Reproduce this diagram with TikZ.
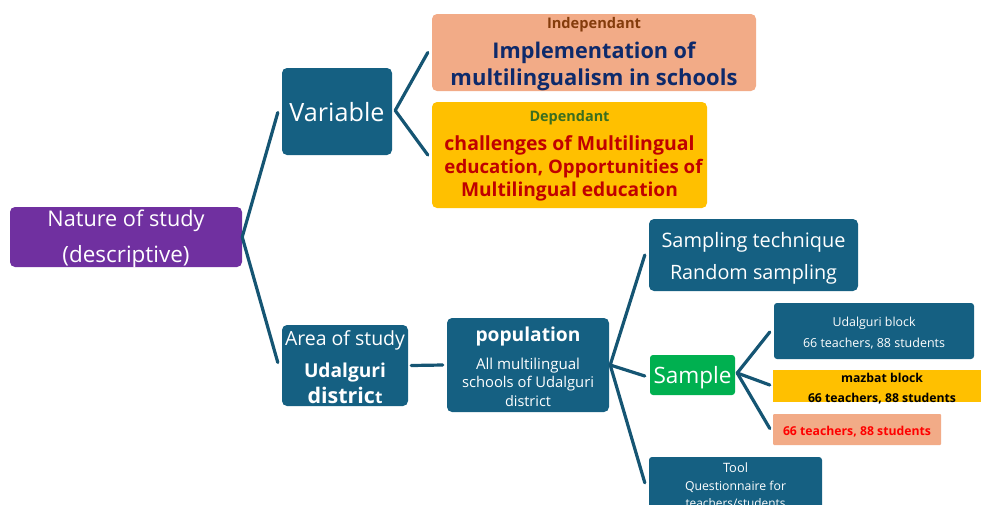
\documentclass[tikz,border=0pt]{standalone}
\usepackage{fontspec}
\setmainfont{Open Sans}
\usetikzlibrary{calc}
\definecolor{boxblue}{HTML}{156082}
\definecolor{linec}{HTML}{155573}
\definecolor{natpurple}{HTML}{7030A0}
\definecolor{salmon}{HTML}{F2AB87}
\definecolor{gold}{HTML}{FFC000}
\definecolor{sgreen}{HTML}{00B050}
\definecolor{indbrown}{HTML}{843C0C}
\definecolor{navy}{HTML}{0E2A6B}
\definecolor{dred}{HTML}{C00000}
\definecolor{dgreen}{HTML}{3B6E1F}
\definecolor{bred}{HTML}{FF0000}
\newcommand{\fw}[2]{\resizebox{#1pt}{!}{#2}}
\tikzset{
  box/.style={rounded corners=5pt, inner sep=0pt, draw=none},
  txt/.style={inner sep=0pt, text=white, yshift=-2pt},
  conn/.style={draw=linec, line width=3.2pt, line cap=round}
}
\begin{document}
\begin{tikzpicture}[x=1pt,y=-1pt]
\useasboundingbox (0,0) rectangle (981,504);
\clip (0,0) rectangle (981,504);
% boxes
\node[box, fill=natpurple, minimum width=232pt, minimum height=60pt] (nat) at (126,237) {};
\node[box, fill=boxblue, minimum width=110pt, minimum height=87pt] (var) at (337,111.5) {};
\node[box, fill=salmon, minimum width=324pt, minimum height=77pt] (ind) at (594,52.5) {};
\node[box, fill=gold, minimum width=275pt, minimum height=106pt] (dep) at (569.5,155) {};
\node[box, fill=boxblue, minimum width=126pt, minimum height=81pt] (area) at (345,365.5) {};
\node[box, fill=boxblue, minimum width=162pt, minimum height=94pt] (pop) at (528,365) {};
\node[box, fill=boxblue, minimum width=209pt, minimum height=72pt] (st) at (753.5,255) {};
\node[box, rounded corners=3pt, fill=sgreen, minimum width=85pt, minimum height=40pt] (smp) at (692.5,375) {};
\node[box, rounded corners=3pt, fill=boxblue, minimum width=200pt, minimum height=56pt] (udal) at (874,331) {};
\node[box, rounded corners=0pt, fill=gold, minimum width=210pt, minimum height=32pt] (maz) at (878,386) {};
\node[box, rounded corners=1pt, fill=salmon, minimum width=168pt, minimum height=31pt] (t66) at (857,429.5) {};
\node[box, rounded corners=3pt, fill=boxblue, minimum width=173pt, minimum height=70pt] (tool) at (735.5,492) {};
% texts
\node[txt] (natA) at (126,219) {\fw{157}{Nature of study}};
\node[txt] (natB) at (126,255) {\fw{127}{(descriptive)}};
\node[txt] (varT) at (337,110) {\fw{95}{Variable}};
\node[txt, text=indbrown] (indA) at (594,23) {\fw{94}{\bfseries Independant}};
\node[txt, text=navy] (indB) at (594,51) {\fw{203}{\bfseries Implementation of}};
\node[txt, text=navy] (indC) at (594,78) {\fw{287}{\bfseries multilingualism in schools}};
\node[txt, text=dgreen] (depA) at (569.5,116) {\fw{80}{\bfseries Dependant}};
\node[txt, text=dred] (depB) at (569.5,143) {\fw{250}{\bfseries challenges of Multilingual}};
\node[txt, text=dred] (depC) at (573.5,167) {\fw{258}{\bfseries education, Opportunities of}};
\node[txt, text=dred] (depD) at (569.5,190) {\fw{217}{\bfseries Multilingual education}};
\node[txt] (areaA) at (345,338) {\fw{120}{Area of study}};
\node[txt] (areaB) at (345,371) {\fw{82}{\bfseries Udalguri}};
\node[txt] (areaC) at (345,393) {\fw{75}{\bfseries distric{\footnotesize t}}};
\node[txt] (popA) at (528,335) {\fw{105}{\bfseries population}};
\node[txt] (popB) at (528,364) {\fw{104}{All multilingual}};
\node[txt] (popC) at (528,382) {\fw{132}{schools of Udalguri}};
\node[txt] (popD) at (528,399) {\fw{46}{district}};
\node[txt] (stA) at (753.5,240) {\fw{184}{Sampling technique}};
\node[txt] (stB) at (753.5,272) {\fw{167}{Random sampling}};
\node[txt] (smpT) at (692.5,376) {\fw{78}{Sample}};
\node[txt] (udA) at (874,321) {\fw{83}{Udalguri block}};
\node[txt] (udB) at (874,342) {\fw{142}{66 teachers, 88 students}};
\node[txt, text=black] (mzA) at (882,376) {\fw{82}{\bfseries mazbat block}};
\node[txt, text=black] (mzB) at (882,397) {\fw{148}{\bfseries 66 teachers, 88 students}};
\node[txt, text=bred] (t66T) at (857,430) {\fw{148}{\bfseries 66 teachers, 88 students}};
\node[txt] (toolA) at (735.5,466) {\fw{25}{Tool}};
\node[txt] (toolB) at (735.5,485) {\fw{101}{Questionnaire for}};
\node[txt] (toolC) at (735.5,501) {\fw{100}{teachers/students}};
% connectors
\draw[conn] (nat.east) -- ($(var.west)+(-4,1)$);
\draw[conn] (nat.east) -- ($(area.west)+(-4,-3)$);
\draw[conn] ($(var.east)+(3,-1)$) -- ($(ind.west)+(-4,0)$);
\draw[conn] ($(var.east)+(3,-1)$) -- ($(dep.west)+(-4,0)$);
\draw[conn] ($(area.east)+(3,0)$) -- ($(pop.west)+(-4,0)$);
\draw[conn] ($(pop.east)+(1,0)$) -- ($(st.west)+(-4,0)$);
\draw[conn] ($(pop.east)+(1,0)$) -- ($(smp.west)+(-5,1)$);
\draw[conn] ($(pop.east)+(1,0)$) -- ($(tool.north west)+(-4,26)$);
\draw[conn] ($(smp.east)+(2,-2)$) -- ($(udal.west)+(-4,1)$);
\draw[conn] ($(smp.east)+(2,-2)$) -- ($(maz.west)+(-3,-1)$);
\draw[conn] ($(smp.east)+(2,-2)$) -- ($(t66.west)+(-3,-1)$);
\end{tikzpicture}
\end{document}
